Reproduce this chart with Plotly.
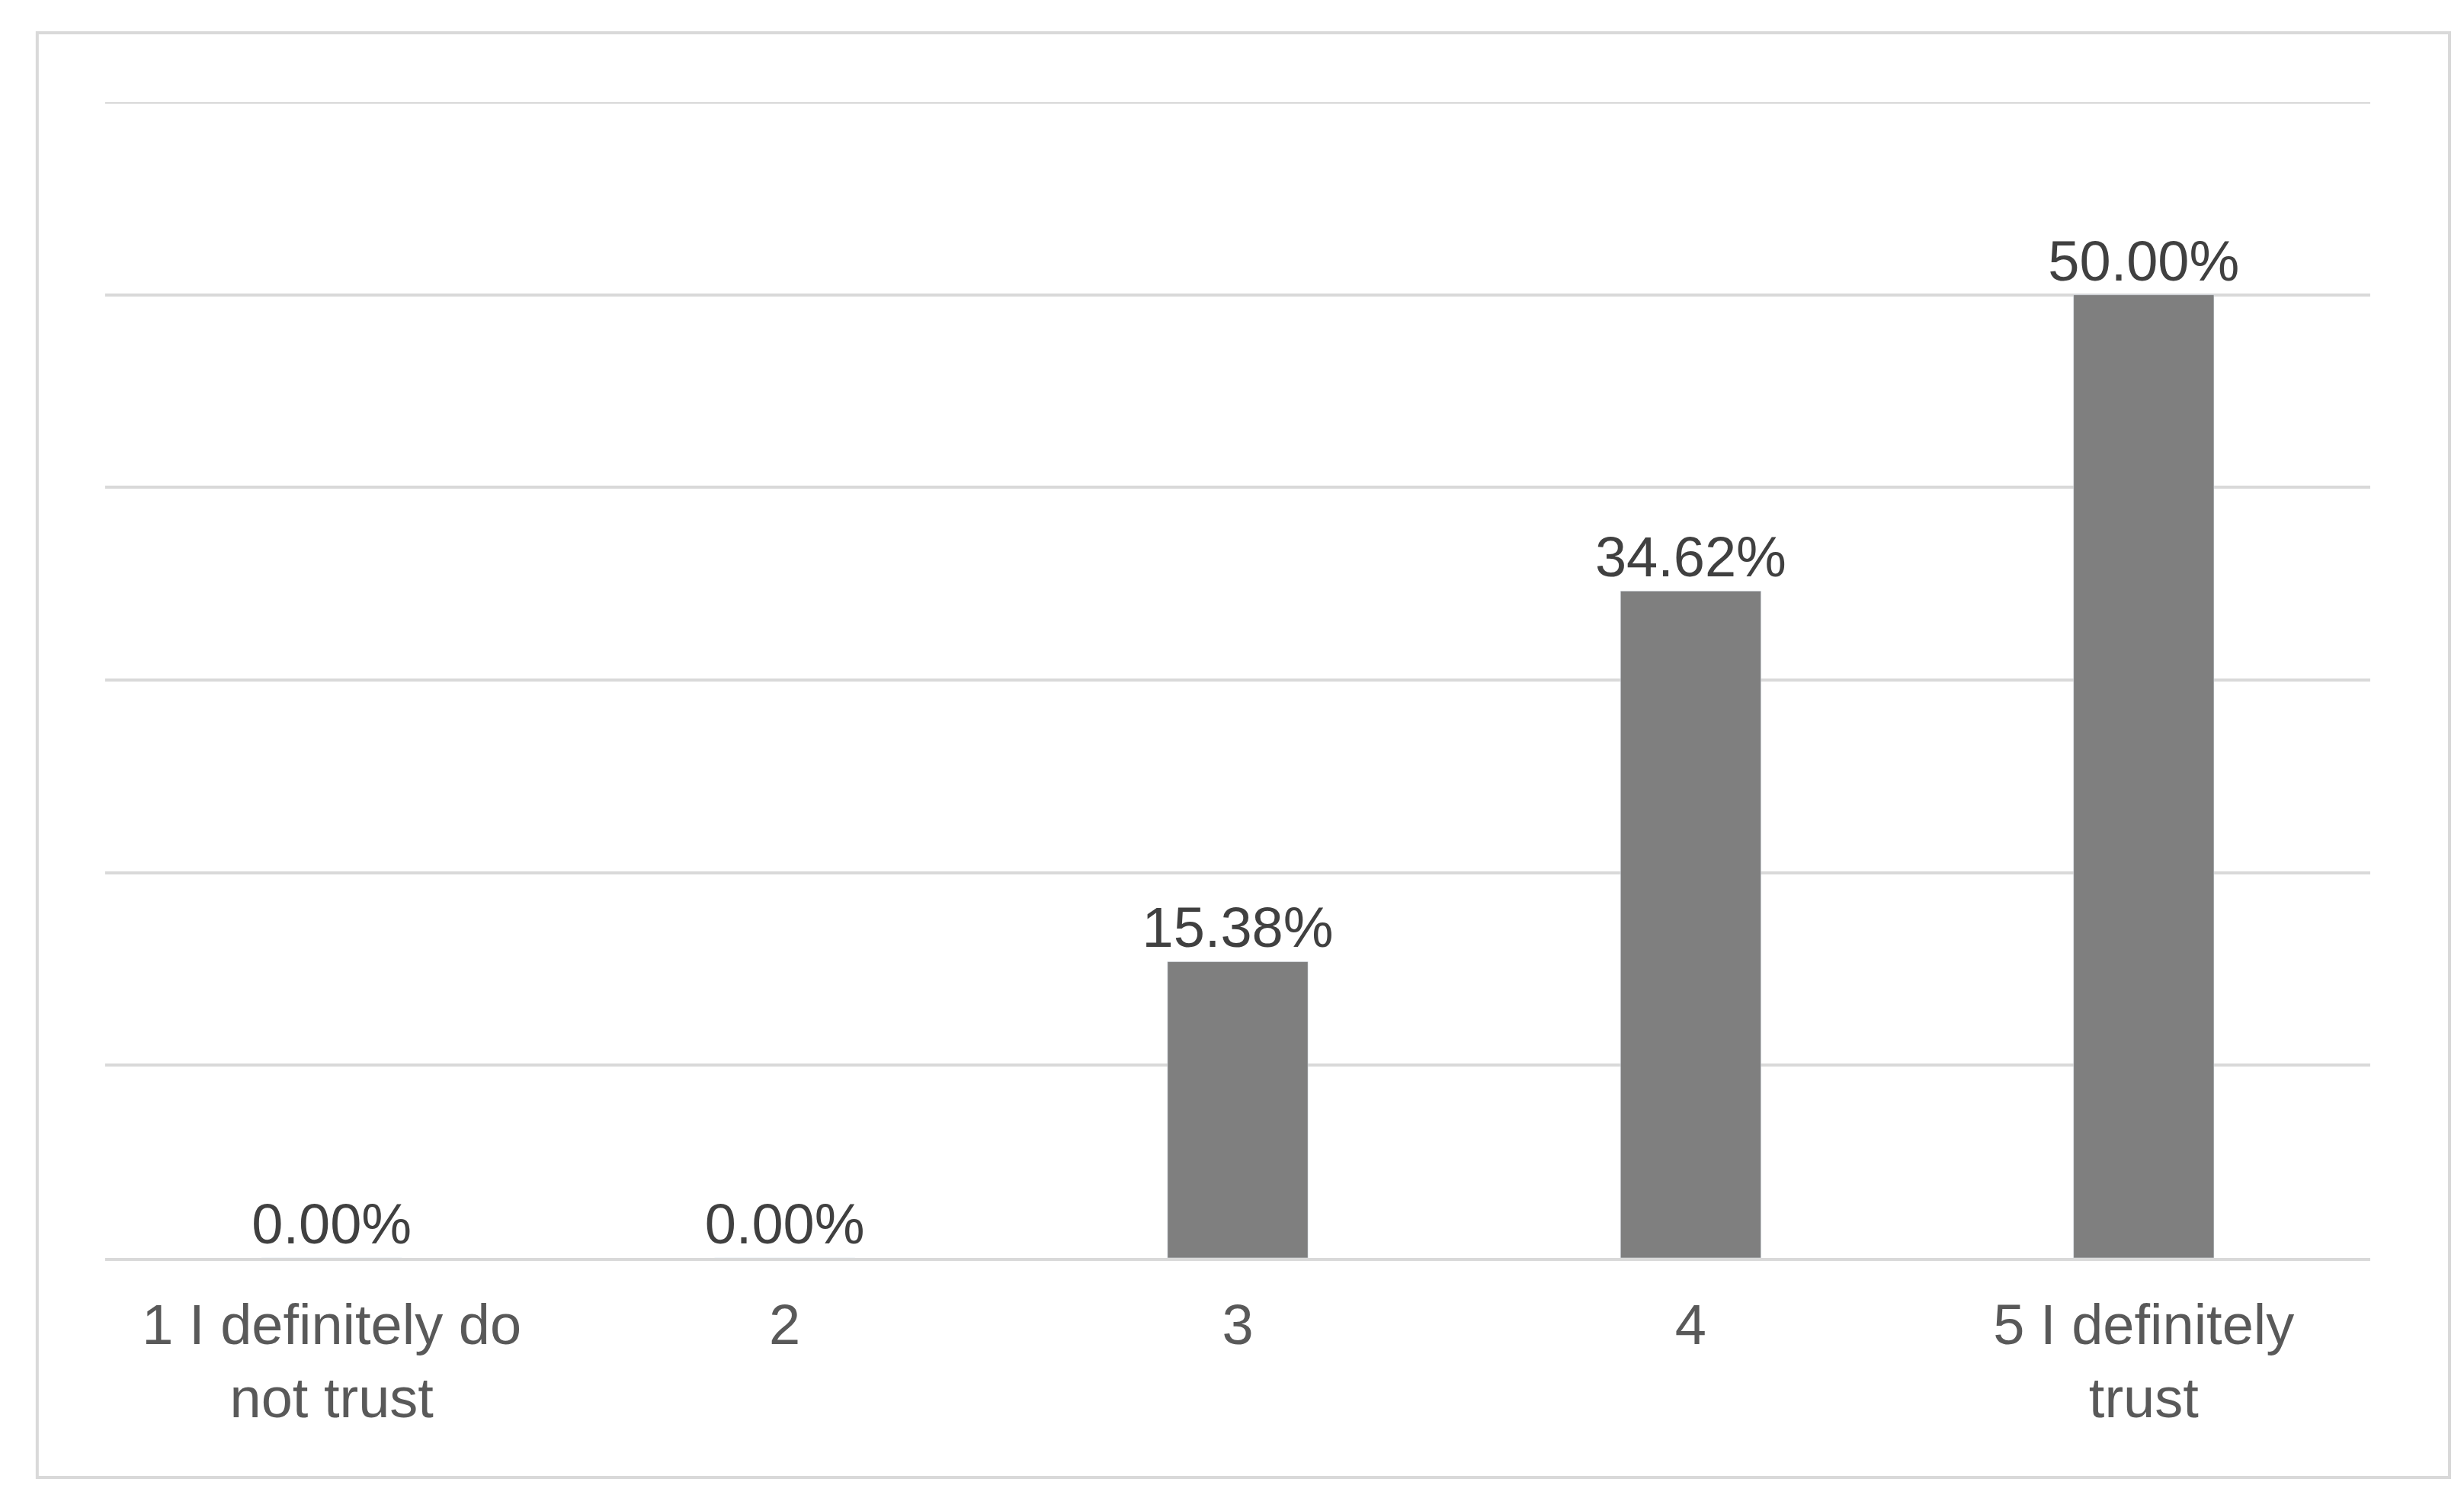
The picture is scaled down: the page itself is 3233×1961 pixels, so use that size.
import plotly.graph_objects as go

categories = ["1 I definitely do<br>not trust", "2", "3", "4", "5 I definitely<br>trust"]
values = [0.0, 0.0, 15.38, 34.62, 50.0]
labels = ["0.00%", "0.00%", "15.38%", "34.62%", "50.00%"]

fig = go.Figure(go.Bar(
    x=categories, y=values, text=labels, textposition="outside",
    constraintext="none",
    marker_color="#7f7f7f", cliponaxis=False,
    textfont=dict(size=74, color="#404040"),
))

fig.update_layout(
    width=3233, height=1961,
    paper_bgcolor="white", plot_bgcolor="white",
    margin=dict(l=130, r=131, t=126, b=319),
    bargap=0.69, showlegend=False,
    font=dict(family="Liberation Sans, Arial", size=74, color="#595959"),
    xaxis=dict(showline=True, linecolor="#d9d9d9", linewidth=4, ticks="",
               ticklabelstandoff=20,
               tickfont=dict(size=74, color="#595959")),
    yaxis=dict(range=[0, 60], dtick=10, showticklabels=False,
               gridcolor="#d9d9d9", gridwidth=4, zeroline=False),
    shapes=[dict(type="rect", xref="paper", yref="paper",
                 x0=-0.03, x1=1.035, y0=-0.19, y1=1.06,
                 line=dict(color="#d9d9d9", width=4))],
)
# top gridline at 60
fig.add_hline(y=60, line_color="#d9d9d9", line_width=4)

fig.write_html("out.html")
